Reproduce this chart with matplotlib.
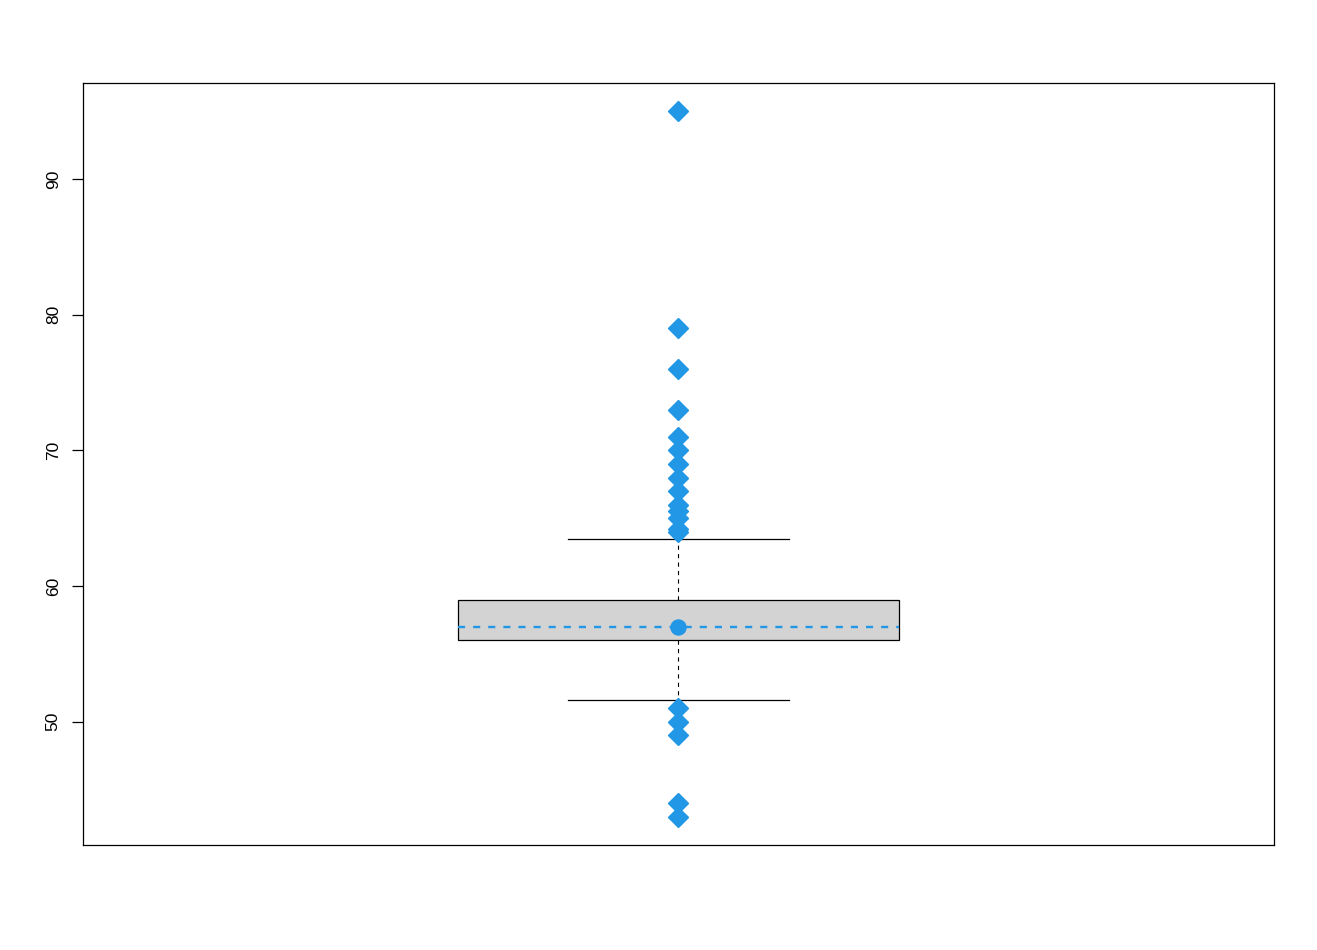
import matplotlib
matplotlib.use("Agg")
import matplotlib.pyplot as plt

# box summary
q1 = 56
med = 57
q3 = 59
whis_lo = 51.6
whis_hi = 63.5
outliers = [95, 79, 76, 73, 71, 70, 69, 68, 67, 66, 65.5, 65, 64.2, 64,
            51, 50, 49, 44, 43]
yticks = [50, 60, 70, 80, 90]

blue = '#2297E6'

plt.rcParams['font.family'] = ['Liberation Sans', 'DejaVu Sans']

fig = plt.figure(figsize=(13.17, 9.5), dpi=100)
ax = fig.add_axes([83/1317, 105/950, 1191/1317, 762/950])

stats = [{'med': med, 'q1': q1, 'q3': q3, 'whislo': whis_lo, 'whishi': whis_hi,
          'fliers': outliers}]

ax.bxp(stats, positions=[1], widths=0.4, capwidths=0.2, patch_artist=True,
       boxprops=dict(facecolor='#D3D3D3', edgecolor='black', linewidth=0.9),
       whiskerprops=dict(color='black', linewidth=0.8, linestyle=(0, (3.8, 3.8))),
       capprops=dict(color='black', linewidth=0.9),
       medianprops=dict(color=blue, linewidth=1.7, linestyle=(0, (3, 3.4))),
       flierprops=dict(marker='D', markersize=10.3, markerfacecolor=blue,
                       markeredgecolor=blue, linestyle='none'))

# median point
ax.plot([1], [med], 'o', color=blue, markersize=10.8, zorder=5)

lo = min(outliers)
hi = max(outliers)
pad = (hi - lo) * 0.04
ax.set_ylim(lo - pad, hi + pad)
ax.set_xlim(0.46, 1.54)

ax.set_xticks([])
ax.set_yticks(yticks)
ax.tick_params(axis='y', length=8, width=0.9, pad=8, labelsize=12.5, labelrotation=90)
for lab in ax.get_yticklabels():
    lab.set_va('center')
for s in ax.spines.values():
    s.set_linewidth(0.9)

plt.savefig('out.png', dpi=100)
